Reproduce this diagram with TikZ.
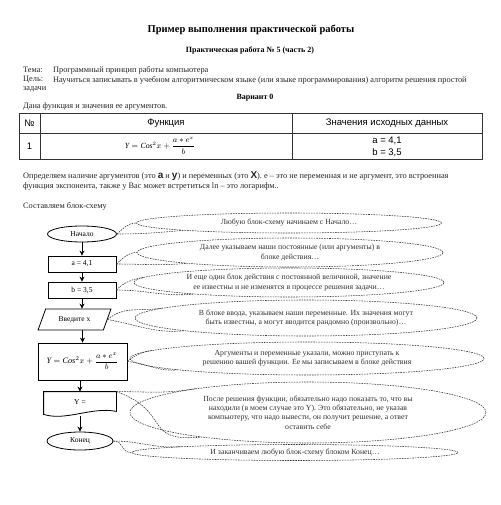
\documentclass[tikz,border=0pt]{standalone}
\usepackage{amsmath}
\usepackage{fontspec}
\setmainfont{Liberation Serif}
\setsansfont{Liberation Sans}
\usetikzlibrary{arrows.meta,calc,shapes.geometric}
\tikzset{
  bodytxt/.style  = {font=\fontsize{8.3}{9.5}\selectfont, inner sep=0pt, text=black!85},
  titletxt/.style = {font=\fontsize{10.5}{12}\selectfont\bfseries, inner sep=0pt},
  subtxt/.style   = {font=\fontsize{8}{9.5}\selectfont\bfseries, inner sep=0pt},
  headtxt/.style  = {font=\sffamily\fontsize{9.5}{11}\selectfont, inner sep=0pt, align=center},
  tabline/.style  = {black!80, line width=0.8pt},
  blk/.style      = {draw, line width=0.8pt, font=\fontsize{7.5}{9}\selectfont, inner sep=1pt},
  blkline/.style  = {line width=0.8pt},
  flowarr/.style  = {-{Stealth[length=5pt,width=5pt]}, line width=0.8pt},
  noteell/.style  = {ellipse, draw=black!80, line width=0.55pt, dash pattern=on 1.6pt off 1pt,
                     align=center, inner sep=0pt, font=\fontsize{7.8}{9.2}\selectfont, text=black!80},
  noteptr/.style  = {black!80, line width=0.55pt, dash pattern=on 1.6pt off 1pt}
}

\begin{document}
\begin{tikzpicture}[x=1pt,y=-1pt]
  \useasboundingbox[fill=white] (0,0) rectangle (500,505);
  % --- heading -------------------------------------------------------------
  \node[titletxt] (ttl) at (251,30) {Пример выполнения практической работы};
  \node[subtxt] (sub) at (250,50) {Практическая работа № 5 (часть 2)};
  \node[bodytxt,anchor=west] (temaL) at (23,70) {Тема:};
  \node[bodytxt,anchor=west] (temaR) at (53,70) {Программный принцип работы компьютера};
  \node[bodytxt,anchor=west] (celL) at (23,80) {Цель:};
  \node[bodytxt,anchor=west] (celR) at (53,80)
        {Научиться записывать в учебном алгоритмическом языке (или языке программирования) алгоритм решения простой};
  \node[bodytxt,anchor=west] (celR2) at (23,89) {задачи};
  \node[subtxt] (var) at (255,98) {Вариант 0};
  \node[bodytxt,anchor=west] (given) at (23,107) {Дана функция и значения ее аргументов.};
  % --- the table of data ---------------------------------------------------
  \draw[tabline] (19,113) rectangle (482,159);
  \draw[tabline] (19,133.5) -- (482,133.5);
  \draw[tabline] (40,113) -- (40,159);
  \draw[tabline] (292.5,113) -- (292.5,159);
  \node[headtxt] (hnum) at (29.5,123) {№};
  \node[headtxt] (hfun) at (166,123) {Функция};
  \node[headtxt] (hval) at (387,123) {Значения исходных данных};
  \node[headtxt] (rnum) at (29.5,146) {1};
  \node[inner sep=0pt,font=\fontsize{7.8}{8}\selectfont] (rfun) at (160,146)
        {$\mathit{Y}=\mathit{Cos}^2x+\dfrac{a*e^x}{b}$};
  \node[headtxt] (rval) at (387,147) {a = 4,1\\[0.5pt] b = 3,5};
  % --- explanation ---------------------------------------------------------
  \node[bodytxt,anchor=west] (par1) at (23,176)
        {Определяем наличие аргументов (это {\sffamily\bfseries\fontsize{10}{10}\selectfont a} и
         {\sffamily\bfseries\fontsize{10}{10}\selectfont y}) и переменных (это
         {\sffamily\bfseries\fontsize{10}{10}\selectfont X}). е – это не переменная и не аргумент, это встроенная};
  \node[bodytxt,anchor=west] (par2) at (23,187)
        {функция экспонента, также у Вас может встретиться ln – это логарифм..};
  \node[bodytxt,anchor=west] (make) at (23,206) {Составляем блок-схему};
  % --- the flow chart ------------------------------------------------------
  \node[blk,ellipse,minimum width=69,minimum height=16] (start) at (82,234) {Начало};
  \node[blk,minimum width=68,minimum height=16] (sa) at (82,264) {a = 4,1};
  \node[blk,minimum width=68,minimum height=16] (sb) at (82,290) {b = 3,5};
  \node[blk,trapezium,trapezium left angle=62,trapezium right angle=118,
        trapezium stretches=true,minimum width=73,minimum height=21] (inp) at (74.5,319.5) {Введите x};
  \node[blk,minimum width=89,minimum height=37,font=\fontsize{8.3}{10}\selectfont] (func) at (82.5,361.5)
        {$\mathit{Y}=\mathit{Cos}^2x+\dfrac{a*e^x}{b}$};
  \node[blk,draw=none,minimum width=72,minimum height=24] (outp) at (80,404) {\raisebox{3pt}{Y =}};
  \draw[blkline] ($(outp.south west)+(0,-2)$) -- (outp.north west) -- (outp.north east)
        -- ($(outp.south east)+(0,-5)$)
        .. controls ($(outp.south)+(12,-10)$) and ($(outp.south)+(-14,5)$) .. cycle;
  \node[blk,ellipse,minimum width=66,minimum height=18] (fin) at (80,441) {Конец};
  % arrows between the blocks
  \draw[flowarr] (start) -- (sa);
  \draw[flowarr] (sa) -- (sb);
  \draw[flowarr] (sb.south) -- (sb.south |- inp.north);
  \draw[flowarr] (func.north |- inp.south) -- (func.north);
  \draw[flowarr] (func.south -| outp.north) -- (outp.north);
  \draw[flowarr] (outp.south) -- (fin.north);
  % --- the notes, dashed ellipses with a pointer to each block -------------
  \node[noteell,minimum width=305,minimum height=20] (c1) at (289,223)
        {Любую блок-схему начинаем с Начало…};
  \node[noteell,minimum width=306,minimum height=29] (c2) at (290,252.5)
        {Далее указываем наши постоянные (или аргументы) в\\ блоке действия…};
  \node[noteell,minimum width=310,minimum height=29] (c3) at (289,282.5)
        {И еще один блок действия с постоянной величиной, значение\\
         ее известны и не изменятся в процессе решения задачи…};
  \node[noteell,minimum width=342,minimum height=36] (c4) at (306,318)
        {В блоке ввода, указываем наши переменные. Их значения могут\\
         быть известны, а могут вводится рандомно (произвольно)…};
  \node[noteell,minimum width=354,minimum height=33] (c5) at (307,358.5)
        {Аргументы и переменные указали, можно приступать к\\
         решению вашей функции. Ее мы записываем в блоке действия};
  \node[noteell,minimum width=356,minimum height=61] (c6) at (308,412.5)
        {После решения функции, обязательно надо показать то, что вы\\
         находили (в моем случае это Y). Это обязательно, не указав\\
         компьютеру, что надо вывести, он получит решение, а ответ\\
         оставить себе};
  \node[noteell,minimum width=326,minimum height=16] (c7) at (295,452.5)
        {И заканчиваем любую блок-схему блоком Конец…};
  % pointers (two curved edges each)
  \draw[noteptr] (start.east) to[out=40,in=180] (c1.west);
  \draw[noteptr] (start.east) to[out=0,in=185] (c1.184);
  \draw[noteptr] (sa.east) to[out=40,in=180] (c2.west);
  \draw[noteptr] (sa.east) to[out=0,in=185] (c2.186);
  \draw[noteptr] (sb.east) to[out=45,in=190] (c3.178);
  \draw[noteptr] (sb.east) to[out=0,in=185] (c3.187);
  \draw[noteptr] (inp.east) to[out=40,in=190] (c4.176);
  \draw[noteptr] (inp.east) to[out=-10,in=185] (c4.186);
  \draw[noteptr] (func.east) to[out=40,in=190] (c5.177);
  \draw[noteptr] (func.east) to[out=-5,in=185] (c5.185);
  \draw[noteptr] (outp.north east) to[out=0,in=190] (c6.168);
  \draw[noteptr] (outp.north east) to[out=-20,in=185,looseness=1.6] (c6.193);
  \draw[noteptr] (fin.east) to[out=0,in=185] (c7.177);
  \draw[noteptr] (fin.east) to[out=-5,in=180,looseness=1.4] (c7.west);
\end{tikzpicture}
\end{document}
